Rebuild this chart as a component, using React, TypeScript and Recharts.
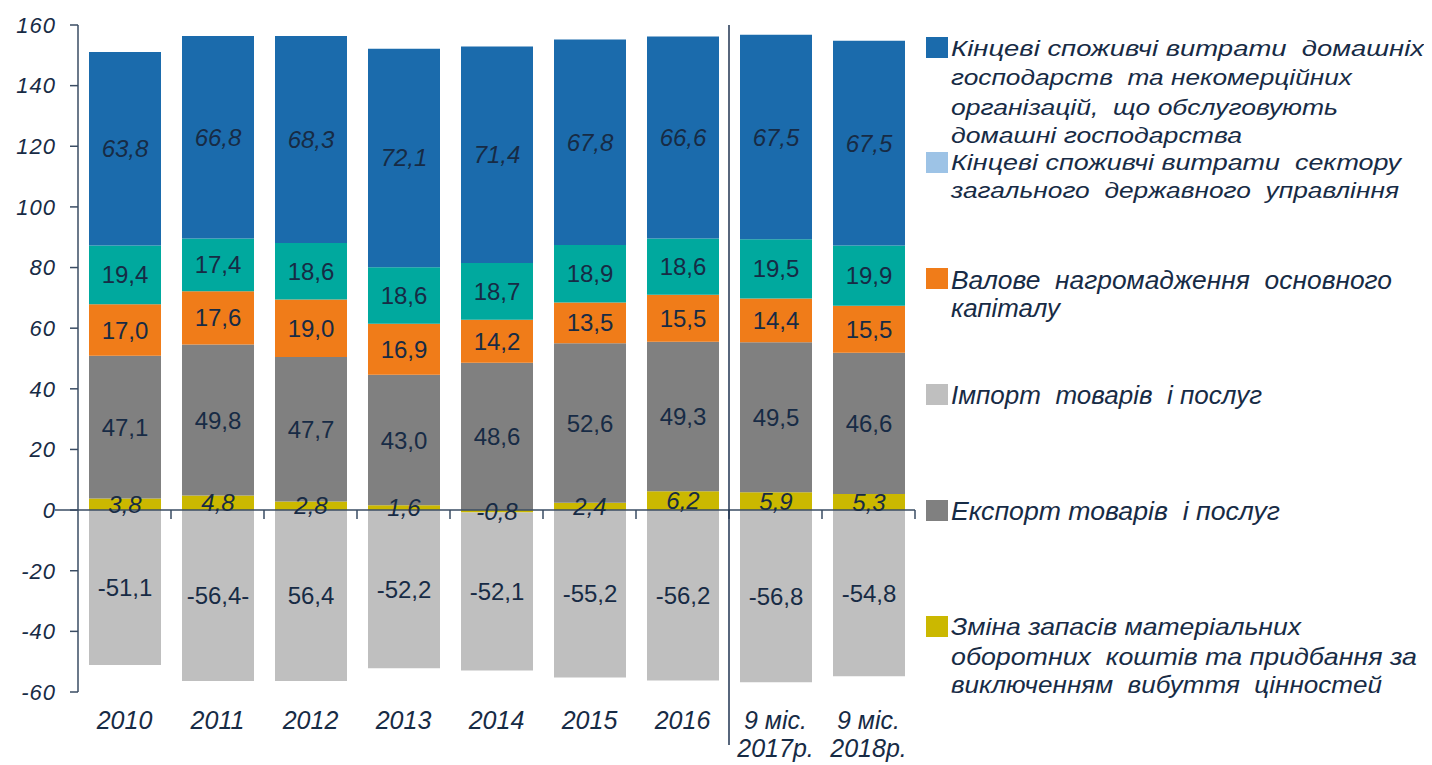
import React from 'react';
import { BarChart, Bar, XAxis, YAxis, ReferenceLine, LabelList } from 'recharts';

// ---------- data ----------
const categories = ['2010', '2011', '2012', '2013', '2014', '2015', '2016', '9 міс.\n2017р.', '9 міс.\n2018р.'];
const household = [63.8, 66.8, 68.3, 72.1, 71.4, 67.8, 66.6, 67.5, 67.5];
const government = [19.4, 17.4, 18.6, 18.6, 18.7, 18.9, 18.6, 19.5, 19.9];
const capital = [17.0, 17.6, 19.0, 16.9, 14.2, 13.5, 15.5, 14.4, 15.5];
const exportsV = [47.1, 49.8, 47.7, 43.0, 48.6, 52.6, 49.3, 49.5, 46.6];
const stocks = [3.8, 4.8, 2.8, 1.6, -0.8, 2.4, 6.2, 5.9, 5.3];
const imports = [-51.1, -56.4, -56.4, -52.2, -52.1, -55.2, -56.2, -56.8, -54.8];
const importLabels = ['-51,1', '-56,4-', '56,4', '-52,2', '-52,1', '-55,2', '-56,2', '-56,8', '-54,8'];
const yTicks = [-60, -40, -20, 0, 20, 40, 60, 80, 100, 120, 140, 160];

const legendItems = [
  { key: 'household', lines: ['Кінцеві споживчі витрати  домашніх', 'господарств  та некомерційних', 'організацій,  що обслуговують', 'домашні господарства'] },
  { key: 'govLegend', lines: ['Кінцеві споживчі витрати  сектору', 'загального  державного  управління'] },
  { key: 'capital', lines: ['Валове  нагромадження  основного', 'капіталу'] },
  { key: 'imports', lines: ['Імпорт  товарів  і послуг'] },
  { key: 'exports', lines: ['Експорт товарів  і послуг'] },
  { key: 'stocks', lines: ['Зміна запасів матеріальних', 'оборотних  коштів та придбання за', 'виключенням  вибуття  цінностей'] },
];

const data = categories.map((cat, i) => ({
  cat,
  household: household[i],
  government: government[i],
  capital: capital[i],
  exports: exportsV[i],
  stocks: stocks[i],
  imports: imports[i],
  importLabel: importLabels[i],
}));

// ---------- styles ----------
const FONT = '"Liberation Sans", Arial, sans-serif';
const TEXT = '#172b45';
const AXIS = '#3a4c63';
const COLORS: Record<string, string> = {
  household: '#1b6bac',
  government: '#00a99e',
  govLegend: '#9dc3e6',
  capital: '#f07c19',
  exports: '#808080',
  imports: '#bfbfbf',
  stocks: '#cbb800',
};

// legend layout (local coords of legend svg)
const legendLayout: Record<string, { sqY: number; baselines: number[]; widths: number[]; fontSize: number }> = {
  household: { sqY: 29, baselines: [48, 77, 107, 135], widths: [473, 401, 387, 291], fontSize: 22 },
  govLegend: { sqY: 144, baselines: [162, 190], widths: [450, 448], fontSize: 22 },
  capital: { sqY: 260, baselines: [281, 309], widths: [441, 109], fontSize: 25 },
  imports: { sqY: 376, baselines: [396], widths: [311], fontSize: 25 },
  exports: { sqY: 492, baselines: [512], widths: [329], fontSize: 25 },
  stocks: { sqY: 608, baselines: [627, 657, 685], widths: [350, 466, 431], fontSize: 24 },
};

const fmt = (v: any) => (typeof v === 'number' ? v.toFixed(1).replace('.', ',') : String(v));

const makeLabel = (italic: boolean) => (props: any) => {
  const { x, y, width, height, value } = props;
  if (value === undefined || value === null) return null;
  return (
    <text
      x={Number(x) + Number(width) / 2}
      y={Number(y) + Number(height) / 2}
      dy={8.5}
      textAnchor="middle"
      fill={TEXT}
      fontSize={24}
      fontStyle={italic ? 'italic' : 'normal'}
      fontFamily={FONT}
    >
      {fmt(value)}
    </text>
  );
};

const XTick = (props: any) => {
  const { x, y, payload } = props;
  const lines = String(payload.value).split('\n');
  return (
    <g>
      {lines.map((l, i) => (
        <text key={i} x={x} y={y + 37 + i * 28} textAnchor="middle" fill={TEXT} fontSize={25} fontStyle="italic" fontFamily={FONT}>
          {l}
        </text>
      ))}
    </g>
  );
};

const ZeroAxis = (props: any) => {
  const { x1, x2, y1 } = props;
  const left = Math.min(x1, x2);
  const right = Math.max(x1, x2);
  const n = categories.length;
  const step = (right - left) / n;
  return (
    <g>
      <line x1={left - 23} x2={right} y1={y1} y2={y1} stroke={AXIS} strokeWidth={1.5} />
      {categories.map((_, i) => (
        <line key={i} x1={left + (i + 1) * step} x2={left + (i + 1) * step} y1={y1} y2={y1 + 9} stroke={AXIS} strokeWidth={1.5} />
      ))}
    </g>
  );
};

const Separator = (props: any) => {
  const { x1, y1, y2 } = props;
  const top = Math.min(y1, y2);
  const bottom = Math.max(y1, y2);
  return <line x1={x1} x2={x1} y1={top} y2={bottom + 53} stroke="#1f3350" strokeWidth={1.5} />;
};

const Legend = () => (
  <svg width={514} height={757} style={{ position: 'absolute', left: 910, top: 0 }}>
    {legendItems.map((it) => {
      const lay = legendLayout[it.key];
      return (
        <g key={it.key}>
          <rect x={8} y={lay.sqY} width={22} height={21} fill={COLORS[it.key]} />
          {it.lines.map((l, i) => (
            <text
              key={i}
              x={33}
              y={lay.baselines[i]}
              fill={TEXT}
              fontSize={lay.fontSize}
              fontStyle="italic"
              fontFamily={FONT}
              textLength={lay.widths[i]}
              lengthAdjust="spacingAndGlyphs"
              style={{ whiteSpace: 'pre' }}
            >
              {l}
            </text>
          ))}
        </g>
      );
    })}
  </svg>
);

export default function App() {
  return (
    <div style={{ position: 'relative', width: 1424, height: 757, fontFamily: FONT }}>
      <BarChart
        width={1424}
        height={757}
        data={data}
        stackOffset="sign"
        barSize={72}
        margin={{ top: 17, right: 517, bottom: 0, left: 0 }}
      >
        <XAxis
          dataKey="cat"
          height={73}
          axisLine={false}
          tickLine={false}
          tickSize={0}
          tickMargin={0}
          interval={0}
          tick={<XTick />}
        />
        <YAxis
          width={70}
          domain={[-60, 160]}
          ticks={yTicks}
          interval={0}
          axisLine={{ stroke: AXIS, strokeWidth: 1.5 }}
          tickLine={{ stroke: AXIS, strokeWidth: 1.5 }}
          tickSize={8}
          tickMargin={14}
          tick={{ fill: TEXT, fontSize: 22, fontStyle: 'italic', fontFamily: FONT, letterSpacing: 1 }}
        />
        <Bar dataKey="stocks" stackId="a" fill={COLORS.stocks} isAnimationActive={false}>
          <LabelList dataKey="stocks" content={makeLabel(true)} />
        </Bar>
        <Bar dataKey="exports" stackId="a" fill={COLORS.exports} isAnimationActive={false}>
          <LabelList dataKey="exports" content={makeLabel(false)} />
        </Bar>
        <Bar dataKey="capital" stackId="a" fill={COLORS.capital} isAnimationActive={false}>
          <LabelList dataKey="capital" content={makeLabel(false)} />
        </Bar>
        <Bar dataKey="government" stackId="a" fill={COLORS.government} isAnimationActive={false}>
          <LabelList dataKey="government" content={makeLabel(false)} />
        </Bar>
        <Bar dataKey="household" stackId="a" fill={COLORS.household} isAnimationActive={false}>
          <LabelList dataKey="household" content={makeLabel(true)} />
        </Bar>
        <Bar dataKey="imports" stackId="a" fill={COLORS.imports} isAnimationActive={false}>
          <LabelList dataKey="importLabel" content={makeLabel(false)} />
        </Bar>
        <ReferenceLine y={0} shape={ZeroAxis} ifOverflow="visible" />
        <ReferenceLine x={categories[7]} position="start" shape={Separator} ifOverflow="visible" />
      </BarChart>
      <Legend />
    </div>
  );
}
